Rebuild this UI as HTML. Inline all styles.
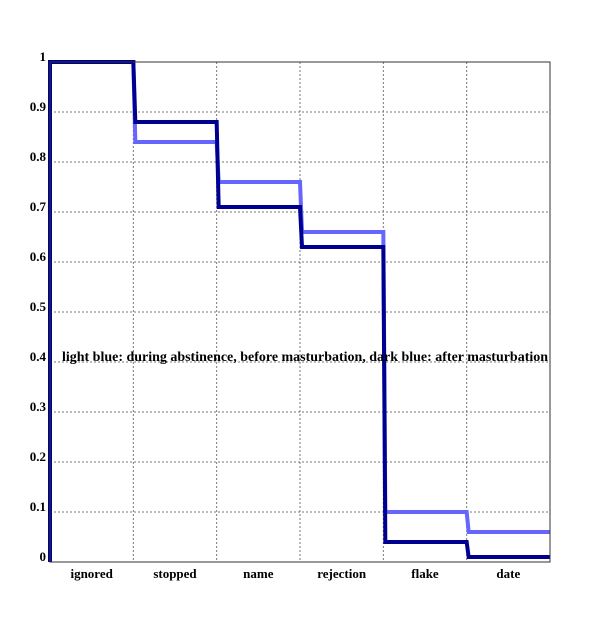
<!DOCTYPE html>
<html><head><meta charset="utf-8"><style>
body{margin:0;background:#fff}
text{font-family:"Liberation Serif",serif;font-weight:bold;font-size:13px;fill:#000}
</style></head><body>
<svg width="612" height="612">
<g id="grid"></g>
<g id="series"></g>
<rect x="50" y="62" width="500" height="500" fill="none" stroke="#333" stroke-width="1"/>
<g id="labels"></g>
<text x="62" y="361" textLength="486" lengthAdjust="spacingAndGlyphs" style="font-size:14px">light blue: during abstinence, before masturbation, dark blue: after masturbation</text>
</svg>
<script>
const categories=["ignored","stopped","name","rejection","flake","date"];
const lightValues=[1,0.84,0.76,0.66,0.10,0.06];
const darkValues=[1,0.88,0.71,0.63,0.04,0.01];
const yTicks=[0,0.1,0.2,0.3,0.4,0.5,0.6,0.7,0.8,0.9,1];
const yTickLabels=["0","0.1","0.2","0.3","0.4","0.5","0.6","0.7","0.8","0.9","1"];
const X0=50,X1=550,Y0=562,Y1=62,NS="http://www.w3.org/2000/svg";
const bw=(X1-X0)/categories.length;
const x=i=>X0+i*bw;
const y=v=>Y0-(Y0-Y1)*v;
function mk(t,a,p){const e=document.createElementNS(NS,t);for(const k in a)e.setAttribute(k,a[k]);p.appendChild(e);return e;}
const grid=document.getElementById('grid'),lab=document.getElementById('labels'),ser=document.getElementById('series');
yTicks.forEach((v,i)=>{
 const l=mk('line',{x1:X0,x2:X1,y1:y(v),y2:y(v),stroke:'#777','stroke-dasharray':'2,2','stroke-width':1},grid);
 
 
 const t=mk('text',{x:X0-4,y:y(v)-1,'text-anchor':'end'},lab);t.textContent=yTickLabels[i];
 
 
});
categories.forEach((c,i)=>{
 if(i>0){const l=mk('line',{x1:x(i),x2:x(i),y1:Y1,y2:Y0,stroke:'#777','stroke-dasharray':'2,2','stroke-width':1},grid);
 
 }
 const t=mk('text',{x:x(i)+bw/2,y:Y0+16,'text-anchor':'middle'},lab);t.textContent=c;
 
 
});
function stepPath(vals){
 let d=`M${X0},${y(0)} L${X0},${y(vals[0])}`;
 vals.forEach((v,i)=>{
  const xs=i===0?X0:x(i)+2;
  d+=` L${xs},${y(v)} L${i===vals.length-1?X1:x(i+1)},${y(v)}`;
 });
 return d;
}
const pl=mk('path',{d:stepPath(lightValues),fill:'none',stroke:'#6666ff','stroke-width':4},ser);


const pd=mk('path',{d:stepPath(darkValues),fill:'none',stroke:'#000090','stroke-width':4},ser);


</script>
</body></html>
